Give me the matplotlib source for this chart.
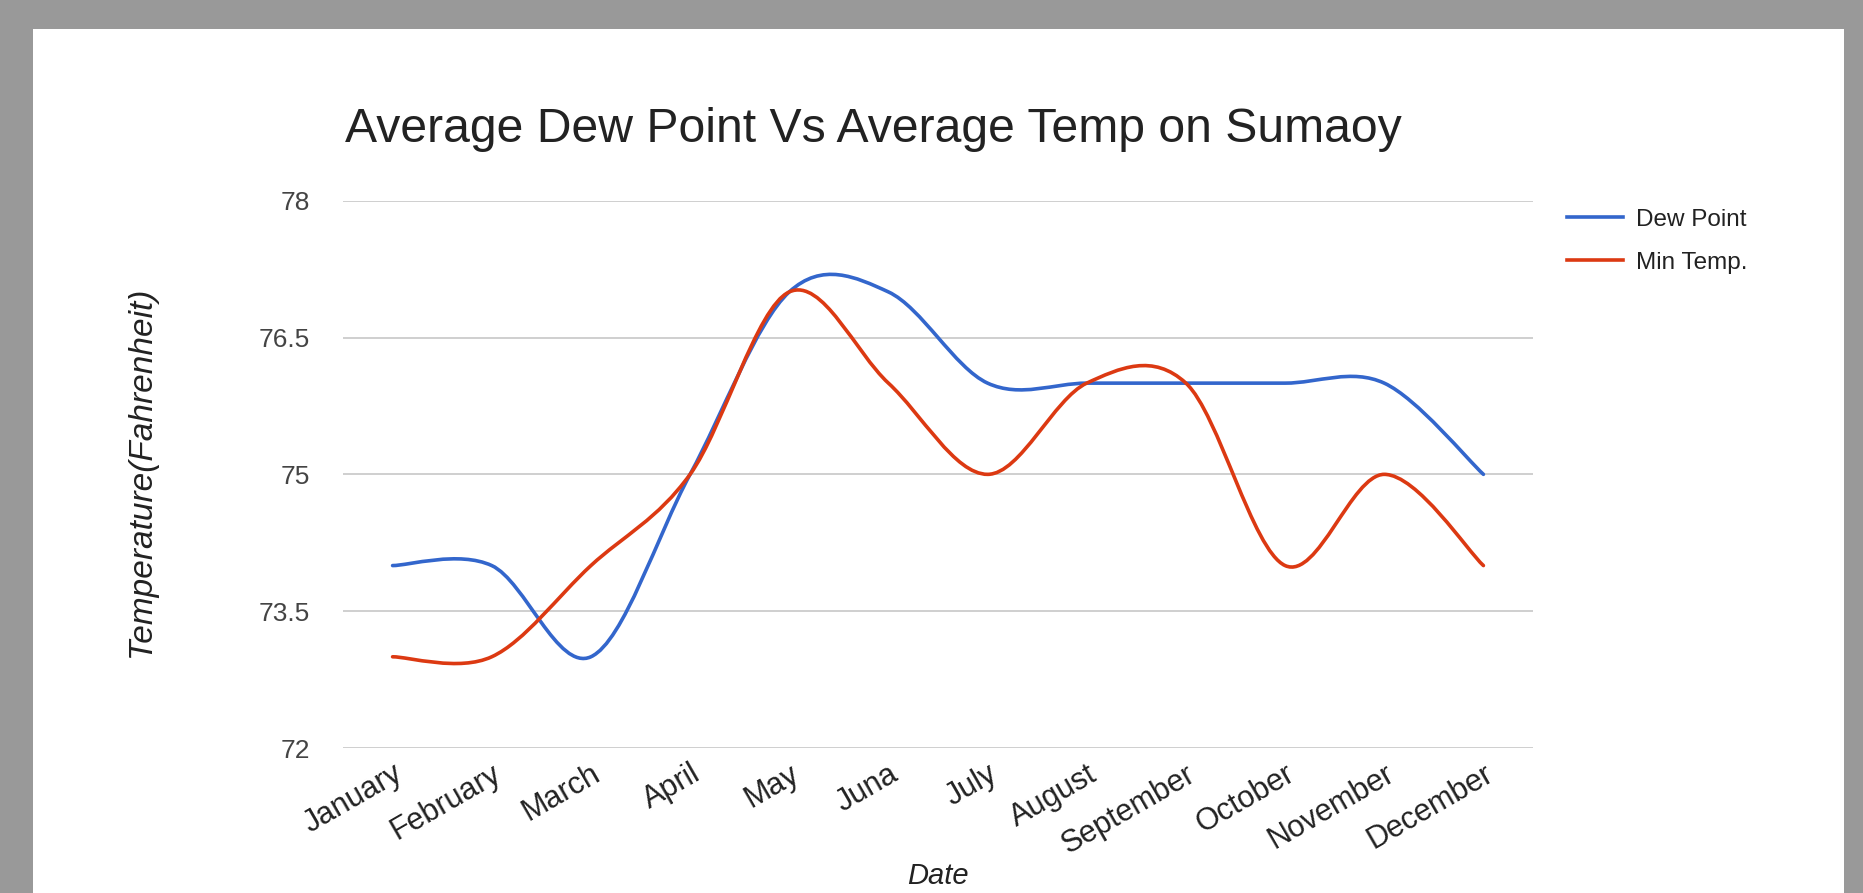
import numpy as np
import matplotlib
matplotlib.use("Agg")
import matplotlib.pyplot as plt
from matplotlib.path import Path
from matplotlib.patches import PathPatch, Rectangle
from matplotlib.lines import Line2D

plt.rcParams['font.family'] = ['Liberation Sans', 'DejaVu Sans']

months = ["January", "February", "March", "April", "May", "Juna", "July",
          "August", "September", "October", "November", "December"]
dew_point = [74, 74, 73, 75, 77, 77, 76, 76, 76, 76, 76, 75]
min_temp = [73, 73, 74, 75, 77, 76, 75, 76, 76, 74, 75, 74]
yticks = [72, 73.5, 75, 76.5, 78]
ytick_labels = ["72", "73.5", "75", "76.5", "78"]

BLUE = "#3366cc"
RED = "#dc3912"


def smooth_path(ys):
    # bezier path through the points, like the "function" curve type
    xs = np.arange(len(ys), dtype=float)
    ys = np.asarray(ys, dtype=float)
    n = len(ys)
    verts = [(xs[0], ys[0])]
    codes = [Path.MOVETO]
    for i in range(n - 1):
        p0 = max(i - 1, 0)
        p3 = min(i + 2, n - 1)
        c1 = (xs[i] + (xs[i + 1] - xs[p0]) / 6, ys[i] + (ys[i + 1] - ys[p0]) / 6)
        c2 = (xs[i + 1] - (xs[p3] - xs[i]) / 6, ys[i + 1] - (ys[p3] - ys[i]) / 6)
        verts += [c1, c2, (xs[i + 1], ys[i + 1])]
        codes += [Path.CURVE4] * 3
    return Path(verts, codes)


fig = plt.figure(figsize=(18.63, 8.93), dpi=100, facecolor="#999999")
W, H = 1863, 893
fig.patches.append(Rectangle((33 / W, 0), (1844 - 33) / W, 1 - 29 / H,
                             transform=fig.transFigure, facecolor="white",
                             edgecolor="none", zorder=-5))

ax = fig.add_axes([343 / W, 1 - 748 / H, (1533 - 343) / W, (748 - 200.7) / H])
ax.set_facecolor("none")
ax.set_zorder(2)

for ys, col in [(dew_point, BLUE), (min_temp, RED)]:
    ax.add_patch(PathPatch(smooth_path(ys), facecolor="none", edgecolor=col,
                           lw=2.6, zorder=3, capstyle="round", joinstyle="round"))

ax.set_xlim(-0.5, len(months) - 0.5)
ax.set_ylim(72, 78)
ax.set_yticks(yticks)
ax.set_yticklabels(ytick_labels)
ax.set_xticks(np.arange(len(months)))
ax.set_xticklabels(months, rotation=30, ha="right", va="top",
                   rotation_mode="anchor")
ax.grid(axis="y", color="#cccccc", lw=1.3)
ax.set_axisbelow(True)
for s in ax.spines.values():
    s.set_visible(False)
ax.tick_params(axis="y", length=0, pad=24, labelsize=19, labelcolor="#444444")
ax.tick_params(axis="x", length=0, pad=8, labelsize=22, labelcolor="#222222")

fig.text(345 / W, 1 - 142 / H, "Average Dew Point Vs Average Temp on Sumaoy",
         fontsize=34.7, color="#222222", ha="left", va="baseline")
fig.text(142 / W, 1 - 472 / H, "Temperature(Fahrenheit)", rotation=90,
         fontsize=24, style="italic", color="#222222", ha="center", va="center")
fig.text(938 / W, 3 / H, "Date", fontsize=21, style="italic",
         color="#222222", ha="center", va="bottom")

handles = [Line2D([], [], color=BLUE, lw=2.6), Line2D([], [], color=RED, lw=2.6)]
leg = ax.legend(handles, ["Dew Point", "Min Temp."], loc="upper left",
                bbox_to_anchor=(1.01, 1.025), frameon=False, fontsize=17.5,
                handlelength=2.3, labelspacing=0.85, handletextpad=0.55)
for t in leg.get_texts():
    t.set_color("#222222")

fig.savefig("out.png", dpi=100, facecolor=fig.get_facecolor())
